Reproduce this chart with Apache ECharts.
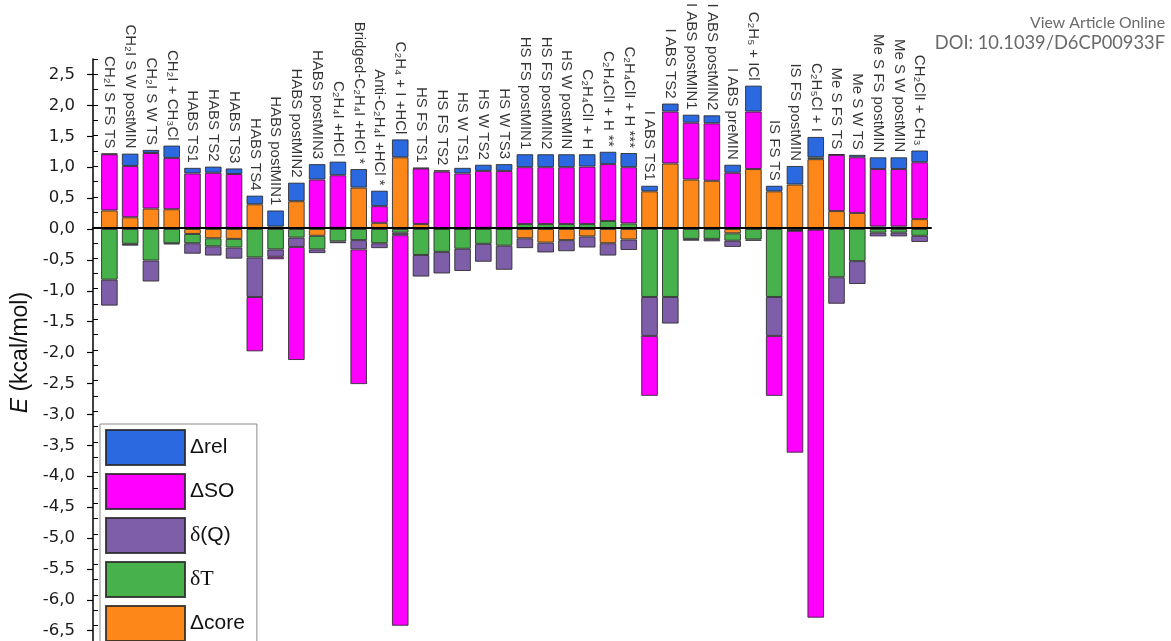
<!DOCTYPE html>
<html>
<head>
<meta charset="utf-8">
<script src="https://cdn.jsdelivr.net/npm/echarts@6/dist/echarts.min.js"></script>
<style>
  html, body { margin: 0; padding: 0; background: #ffffff; }
  #chart { width: 1171px; height: 641px; }
</style>
</head>
<body>
<div id="chart"></div>
<script>
// Energy decomposition per structure (kcal/mol)
const categories = [
  'CH₂I S FS TS', 'CH₂I S W postMIN', 'CH₂I S W TS', 'CH₂I + CH₃Cl',
  'HABS TS1', 'HABS TS2', 'HABS TS3', 'HABS TS4',
  'HABS postMIN1', 'HABS postMIN2', 'HABS postMIN3', 'C₂H₄I +HCl',
  'Bridged-C₂H₄I +HCl *', 'Anti-C₂H₄I +HCl *', 'C₂H₄ + I +HCl',
  'HS FS TS1', 'HS FS TS2', 'HS W TS1', 'HS W TS2', 'HS W TS3',
  'HS FS postMIN1', 'HS FS postMIN2', 'HS W postMIN',
  'C₂H₄ClI + H', 'C₂H₄ClI + H **', 'C₂H₄ClI + H ***',
  'I ABS TS1', 'I ABS TS2', 'I ABS postMIN1', 'I ABS postMIN2', 'I ABS preMIN',
  'C₂H₅ + ICl', 'IS FS TS', 'IS FS postMIN', 'C₂H₅Cl + I',
  'Me S FS TS', 'Me S W TS', 'Me S FS postMIN', 'Me S W postMIN', 'CH₂ClI + CH₃'
];

const deltaCore = [0.30, 0.19, 0.33, 0.32, -0.08, -0.15, -0.16, 0.40, 0.04, 0.45,
  -0.11, 0.02, 0.67, 0.10, 1.16, 0.08, 0.00, 0.00, 0.02, 0.00,
  -0.15, -0.22, -0.18, -0.12, -0.23, -0.17, 0.61, 1.06, 0.80, 0.78,
  -0.07, 0.97, 0.61, 0.72, 1.13, 0.29, 0.26, 0.04, 0.04, 0.16];

const deltaT = [-0.82, -0.24, -0.51, -0.23, -0.15, -0.13, -0.14, -0.46, -0.33, -0.14,
  -0.22, -0.20, -0.18, -0.23, -0.06, -0.42, -0.37, -0.32, -0.24, -0.27,
  0.08, 0.08, 0.08, 0.08, 0.13, 0.09, -1.10, -1.10, -0.16, -0.16,
  -0.12, -0.17, -1.10, -0.02, 0.03, -0.78, -0.52, -0.06, -0.06, -0.11];

const deltaQ = [-0.42, -0.03, -0.34, -0.02, -0.17, -0.15, -0.18, -0.64, -0.12, -0.15,
  -0.06, -0.03, -0.15, -0.08, -0.04, -0.35, -0.35, -0.36, -0.29, -0.39,
  -0.16, -0.16, -0.18, -0.18, -0.20, -0.17, -0.63, -0.43, -0.03, -0.04,
  -0.10, -0.02, -0.63, -0.01, -0.01, -0.43, -0.37, -0.06, -0.06, -0.10];

const deltaSO = [0.91, 0.83, 0.90, 0.83, 0.90, 0.91, 0.89, -0.88, -0.04, -1.83,
  0.80, 0.85, -2.18, 0.27, -6.32, 0.90, 0.93, 0.90, 0.92, 0.94,
  0.92, 0.92, 0.92, 0.93, 0.92, 0.91, -0.97, 0.84, 0.92, 0.93,
  0.91, 0.93, -0.97, -3.59, -6.28, 0.91, 0.90, 0.93, 0.93, 0.92];

const deltaRel = [0.01, 0.20, 0.05, 0.20, 0.09, 0.10, 0.09, 0.14, 0.26, 0.30,
  0.25, 0.22, 0.30, 0.25, 0.29, 0.01, 0.02, 0.09, 0.10, 0.11,
  0.21, 0.21, 0.21, 0.20, 0.20, 0.23, 0.09, 0.13, 0.13, 0.13,
  0.13, 0.42, 0.09, 0.30, 0.33, 0.01, 0.04, 0.19, 0.19, 0.19];

const legendOrder = ['Δrel', 'ΔSO', 'δ(Q)', 'δT', 'Δcore'];

const colors = {
  core: '#fd8718',
  T: '#47b14b',
  Q: '#7f5ea9',
  SO: '#ff00ff',
  rel: '#2a69df'
};

// top of the positive stack, where each structure name sits
const components = [deltaCore, deltaT, deltaQ, deltaSO, deltaRel];
const positiveTop = categories.map((_, i) =>
  components.reduce((s, arr) => s + Math.max(arr[i], 0), 0));

const segBorder = { borderColor: 'rgba(40,40,40,0.85)', borderWidth: 1 };

function stackBar(name, data, color) {
  return {
    name: name,
    type: 'bar',
    stack: 'E',
    xAxisIndex: 0,
    yAxisIndex: 0,
    barWidth: '80%',
    data: data,
    itemStyle: Object.assign({ color: color }, segBorder),
    emphasis: { disabled: true }
  };
}

const fmtComma = v => v.toFixed(1).replace('.', ',');

const chart = echarts.init(document.getElementById('chart'), null, { renderer: 'canvas' });

chart.setOption({
  animation: false,
  backgroundColor: '#ffffff',
  grid: [
    { left: 99, right: 241, top: 74.5, bottom: 10.3 },
    { left: 93, right: 240, top: 59, bottom: -5.2 }
  ],
  xAxis: [
    {
      type: 'category',
      gridIndex: 0,
      data: categories,
      axisLine: { show: false },
      axisTick: { show: false },
      axisLabel: { show: false },
      splitLine: { show: false }
    },
    {
      type: 'value',
      gridIndex: 1,
      min: 0,
      max: 1,
      z: 10,
      axisLine: { show: true, onZero: true, lineStyle: { color: '#000', width: 2 } },
      axisTick: { show: false },
      axisLabel: { show: false },
      splitLine: { show: false }
    }
  ],
  yAxis: [
    {
      type: 'value',
      gridIndex: 0,
      min: -6.5,
      max: 2.5,
      interval: 0.5,
      offset: 6,
      axisLine: { show: false },
      axisTick: { show: true, length: 6, lineStyle: { color: '#000', width: 1.2 } },
      axisLabel: {
        margin: 18,
        fontFamily: 'DejaVu Sans',
        fontSize: 16.5,
        color: '#1a1a1a',
        formatter: fmtComma
      },
      splitLine: { show: false },
      name: '{i|E} (kcal/mol)',
      nameLocation: 'middle',
      nameGap: 52,
      nameTextStyle: {
        fontFamily: 'Liberation Sans',
        fontSize: 23,
        color: '#111',
        rich: { i: { fontStyle: 'italic', fontFamily: 'Liberation Sans', fontSize: 23, color: '#111' } }
      }
    },
    {
      type: 'value',
      gridIndex: 1,
      min: -6.75,
      max: 2.75,
      interval: 0.25,
      z: 10,
      axisLine: { show: true, lineStyle: { color: '#000', width: 1.5 } },
      axisTick: { show: true, inside: true, length: 5, lineStyle: { color: '#000', width: 1 } },
      axisLabel: { show: false },
      splitLine: { show: false }
    }
  ],
  legend: {
    orient: 'vertical',
    left: 100,
    top: 424,
    height: 260,
    padding: [5, 12, 5, 5],
    itemWidth: 79,
    itemHeight: 35,
    itemGap: 7,
    icon: 'rect',
    backgroundColor: '#ffffff',
    borderColor: '#8a8a8a',
    borderWidth: 1,
    borderRadius: 0,
    data: legendOrder,
    selectedMode: false,
    formatter: function (name) {
      if (name === 'δT') return '{s|δT}';
      if (name.charAt(0) === 'δ') return '{s|δ}' + name.slice(1);
      return name;
    },
    textStyle: {
      fontFamily: 'Liberation Sans',
      fontSize: 21,
      color: '#111',
      rich: { s: { fontFamily: 'Liberation Serif', fontSize: 22, color: '#111' } }
    }
  },
  graphic: [
    {
      type: 'text',
      right: 6,
      top: 15,
      style: { text: 'View Article Online', font: '15.8px Lato', fill: '#6a6a6a' }
    },
    {
      type: 'text',
      right: 6,
      top: 34,
      style: { text: 'DOI: 10.1039/D6CP00933F', font: '18.3px Lato', fill: '#6a6a6a' }
    }
  ],
  series: [
    stackBar('Δcore', deltaCore, colors.core),
    stackBar('δT', deltaT, colors.T),
    stackBar('δ(Q)', deltaQ, colors.Q),
    stackBar('ΔSO', deltaSO, colors.SO),
    stackBar('Δrel', deltaRel, colors.rel),
    {
      name: 'labels',
      type: 'scatter',
      xAxisIndex: 0,
      yAxisIndex: 0,
      data: positiveTop,
      symbolSize: 0,
      silent: true,
      z: 5,
      label: {
        show: true,
        position: 'top',
        distance: 5,
        rotate: -90,
        align: 'right',
        verticalAlign: 'middle',
        fontFamily: 'Liberation Sans',
        fontSize: 15,
        color: '#000',
        formatter: p => categories[p.dataIndex]
      }
    }
  ]
});
</script>
</body>
</html>
